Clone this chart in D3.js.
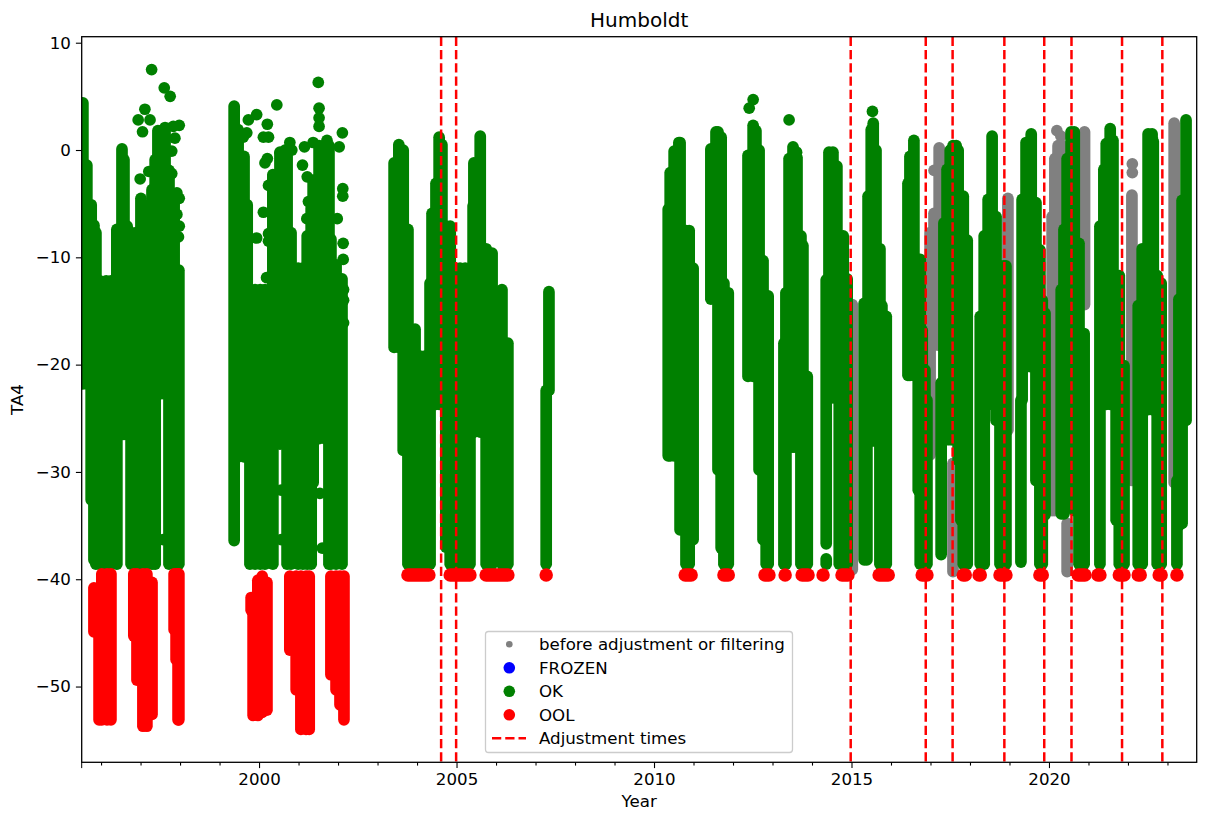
<!DOCTYPE html>
<html>
<head>
<meta charset="utf-8">
<script src="https://cdn.jsdelivr.net/npm/d3@7"></script>
<style>
  html, body { margin: 0; padding: 0; background: #fff; }
  text { font-family: "DejaVu Sans", sans-serif; fill: #000; }
</style>
</head>
<body>
<div id="chart"></div>
<script>
//====================DATA===================
// every span is [year, lowest, highest]

const okSpans = [
  [1995.54,-21.8,4.4],[1995.64,-21.8,-1.4],[1995.75,-32.6,-5.1],[1995.82,-38.2,-7.0],[1995.87,-38.6,-7.7],
  [1995.97,-38.6,-12.2],[1996.13,-38.6,-12.2],[1996.25,-38.6,-12.2],[1996.40,-38.6,-7.4],[1996.53,-26.5,0.1],
  [1996.58,-26.5,-0.9],[1996.66,-26.5,-7.1],[1996.76,-38.6,-7.7],[1996.89,-38.6,-7.7],[1997.01,-38.6,-4.5],
  [1997.16,-38.6,-5.2],[1997.29,-38.6,-3.7],[1997.37,-38.6,-0.9],[1997.44,-22.7,1.8],[1997.54,-22.7,1.8],
  [1997.62,-22.7,2.1],[1997.72,-38.6,-1.9],[1997.85,-38.6,-4.2],[1997.97,-38.6,-11.2],
  [1999.37,-36.4,4.1],[1999.47,-28.6,1.9],[1999.62,-28.6,-0.6],[1999.70,-28.6,-5.1],[1999.77,-38.6,-13.0],
  [1999.90,-38.6,-13.0],[2000.03,-38.6,-13.0],[2000.15,-38.6,-13.0],[2000.35,-38.6,-2.3],[2000.53,-27.4,-0.3],
  [2000.66,-27.4,0.0],[2000.71,-38.6,-0.3],[2000.81,-38.6,-7.7],[2000.99,-38.6,-11.0],[2001.11,-38.6,-11.0],
  [2001.22,-38.6,-8.0],[2001.32,-38.6,-5.4],[2001.37,-31.0,-2.8],[2001.52,-26.9,0.4],[2001.67,-26.9,0.4],
  [2001.77,-38.6,0.4],[2001.82,-38.6,-8.3],[2001.95,-38.6,-10.7],[2002.10,-38.6,-12.0],
  [2003.42,-18.4,-1.2],[2003.54,-18.4,0.5],[2003.65,-28.0,0.0],[2003.77,-38.6,-7.4],[2003.95,-38.6,-16.7],
  [2004.08,-38.6,-19.2],[2004.20,-38.6,-19.2],[2004.33,-38.6,-12.4],[2004.38,-23.7,-5.9],[2004.48,-23.7,-3.1],
  [2004.56,-23.7,1.2],[2004.63,-23.7,0.5],[2004.73,-37.0,-7.1],[2004.84,-38.6,-7.1],[2004.96,-38.6,-11.0],[2005.09,-38.6,-11.0],
  [2005.22,-38.6,-11.0],[2005.34,-38.6,-11.0],[2005.42,-26.3,-5.2],[2005.44,-26.3,-1.2],[2005.60,-26.3,1.3],
  [2005.67,-26.3,-9.2],[2005.75,-38.6,-9.2],[2005.90,-38.6,-9.6],[2006.15,-38.6,-13.0],[2006.30,-38.6,-18.0],
  [2007.34,-22.4,-13.2],[2007.27,-38.6,-22.4],
  [2010.36,-28.5,-5.5],[2010.41,-28.5,-2.1],[2010.51,-28.5,-0.1],[2010.63,-28.5,0.7],[2010.66,-35.4,0.7],
  [2010.81,-38.6,-7.5],[2010.89,-38.6,-7.5],[2010.99,-36.3,-11.0],
  [2011.44,-13.9,0.1],[2011.57,-13.9,1.7],[2011.62,-29.8,1.7],[2011.70,-37.1,1.2],[2011.77,-38.6,-12.4],[2011.88,-38.6,-13.3],
  [2012.38,-21.1,-0.5],[2012.51,-21.1,2.3],[2012.58,-21.1,1.8],[2012.66,-29.8,0.0],[2012.76,-36.3,-10.3],
  [2012.84,-38.6,-13.6],[2012.89,-38.6,-13.6],
  [2013.29,-38.6,-18.0],[2013.34,-38.6,-13.3],[2013.42,-27.7,-0.8],[2013.52,-27.7,0.3],[2013.62,-27.7,-0.7],
  [2013.72,-38.6,-8.0],[2013.77,-38.6,-8.9],[2013.88,-38.6,-21.1],
  [2014.36,-36.7,-12.1],[2014.36,-38.6,-38.1],[2014.43,-23.1,-0.2],[2014.53,-23.1,-0.2],[2014.63,-23.1,-1.5],
  [2014.69,-38.6,-8.0],[2014.79,-38.6,-8.0],[2014.89,-38.6,-12.0],
  [2015.32,-38.2,-14.3],[2015.39,-38.2,-14.3],[2015.42,-27.1,-4.3],[2015.50,-27.1,1.9],[2015.55,-27.1,2.5],
  [2015.62,-27.1,0.0],[2015.72,-38.6,-9.2],[2015.77,-38.6,-14.5],[2015.88,-38.6,-15.5],
  [2016.43,-21.0,-3.1],[2016.48,-21.0,-0.6],[2016.58,-21.0,0.9],[2016.69,-31.7,-10.2],[2016.74,-38.6,-10.2],
  [2016.79,-38.6,-16.8],[2016.86,-38.6,-20.5],[2016.91,-38.6,-23.3],
  [2017.27,-37.7,-21.7],[2017.34,-26.0,-6.8],[2017.42,-27.0,-1.8],[2017.50,-27.0,0.0],[2017.57,-27.0,0.4],
  [2017.65,-27.0,0.4],[2017.70,-28.9,0.0],[2017.77,-34.5,-4.3],[2017.83,-38.6,-4.3],[2017.88,-38.6,-8.4],[2017.93,-38.6,-8.4],
  [2018.26,-38.6,-15.5],[2018.36,-38.6,-8.0],[2018.46,-23.7,-4.6],[2018.56,-23.7,1.3],[2018.66,-25.2,-6.2],
  [2018.76,-38.6,-10.8],[2018.86,-38.6,-10.8],[2018.91,-38.6,-10.8],
  [2019.29,-38.4,-23.3],[2019.32,-23.3,-4.6],[2019.42,-20.2,0.7],[2019.55,-20.2,1.5],[2019.62,-20.2,-4.9],
  [2019.67,-30.8,-4.9],[2019.77,-38.6,-9.3],[2019.83,-38.6,-14.0],[2019.90,-34.0,-15.2],
  [2020.31,-33.9,-13.0],[2020.38,-33.9,-7.4],[2020.46,-33.1,-0.8],[2020.56,-33.1,1.7],[2020.64,-33.6,1.7],
  [2020.76,-38.6,-8.7],[2020.89,-38.6,-17.1],
  [2021.29,-38.6,-7.1],[2021.39,-23.7,-1.8],[2021.45,-23.7,0.6],[2021.55,-23.7,2.0],[2021.62,-23.7,0.9],
  [2021.70,-34.5,-11.7],[2021.78,-38.6,-11.7],[2021.90,-38.6,-20.1],
  [2022.26,-38.6,-14.5],[2022.36,-38.6,-9.2],[2022.51,-24.2,1.5],[2022.61,-24.2,1.5],[2022.64,-24.2,0.8],
  [2022.74,-38.6,-11.7],[2022.84,-38.6,-12.4],
  [2023.24,-38.6,-30.8],[2023.29,-35.0,-13.9],[2023.37,-34.8,-4.7],[2023.47,-25.2,2.8]
];

const okDots = [
  [1997.28,7.5],[1997.60,5.8],[1997.75,5.0],[1997.11,3.8],[1996.94,2.8],[1997.24,2.8],[1997.05,1.7],
  [1997.83,2.2],[1997.98,2.3],[1997.87,1.1],[1997.79,-0.1],[1996.99,-2.7],[1997.21,-2.0],[1997.79,-2.2],
  [1997.92,-4.0],[1997.98,-4.5],[1997.92,-6.0],[1997.98,-7.1],[1997.96,-8.1],[1997.57,-36.3],
  [1999.73,2.8],[1999.94,3.3],[2000.21,2.4],[1999.60,1.2],[1999.69,1.6],[2000.11,1.2],[2000.24,1.2],
  [2000.45,4.2],[2000.78,0.7],[2000.53,-0.2],[2000.83,0.0],[2000.21,-0.8],[2000.15,-1.2],[2001.10,-1.4],
  [2001.22,-2.5],[2000.24,-3.3],[2000.11,-5.8],[1999.94,-8.2],[2000.24,-7.8],[2000.24,-8.5],[2000.19,-11.9],
  [2001.50,6.3],[2001.52,3.9],[2001.52,3.0],[2001.52,2.2],[2001.15,0.3],[2001.37,0.7],[2001.72,0.9],
  [2002.03,0.3],[2002.11,1.6],[2002.12,-3.6],[2002.12,-4.3],[2001.98,-6.4],[2002.13,-8.7],[2002.13,-10.2],
  [2002.14,-13.0],[2002.14,-14.0],[2002.14,-16.1],[2001.54,-32.0],[2001.60,-37.1],[2000.56,-36.3],[2000.56,-31.7],
  [2001.25,-4.8],[2001.21,-6.4],
  [2012.41,3.9],[2012.51,4.7],[2013.42,2.8],[2013.61,-0.2],[2015.53,3.6]
];

const oolSpans = [
  [1995.82,-44.9,-40.8],[1995.95,-53.1,-40.8],[1996.02,-53.1,-39.5],[1996.15,-53.1,-39.5],[1996.25,-53.1,-39.5],
  [1996.83,-45.3,-39.5],[1996.91,-49.4,-39.5],[1997.06,-53.7,-39.5],[1997.16,-53.7,-39.5],[1997.29,-52.6,-40.3],
  [1997.85,-44.7,-39.5],[1997.90,-47.5,-39.5],[1997.95,-53.1,-39.5],[1997.97,-53.1,-39.5],
  [1999.80,-42.9,-41.7],[1999.85,-52.7,-41.7],[1999.97,-52.7,-40.1],[2000.08,-52.4,-39.7],[2000.20,-52.2,-40.3],
  [2000.78,-46.6,-39.7],[2000.94,-50.3,-39.7],[2001.06,-54.0,-39.7],[2001.19,-54.0,-39.7],[2001.27,-54.0,-39.7],
  [2001.82,-48.9,-39.7],[2001.95,-50.3,-39.7],[2002.05,-51.7,-39.7],[2002.15,-53.1,-39.7]
];

// stretches of years where OOL sits flat on the sensor floor
const oolFloor = -39.6;
const oolStretches = [
  [2003.77,2004.30],[2004.84,2005.34],[2005.75,2006.30],[2007.27,2007.27],[2010.79,2010.94],[2011.77,2011.88],
  [2012.81,2012.91],[2013.32,2013.32],[2013.75,2013.90],[2014.28,2014.28],[2014.76,2014.91],[2015.70,2015.93],
  [2016.79,2016.91],[2017.83,2017.88],[2018.23,2018.26],[2018.76,2018.91],[2019.77,2019.83],[2020.74,2020.91],
  [2021.24,2021.29],[2021.78,2021.90],[2022.26,2022.31],[2022.79,2022.84],[2023.24,2023.24]
];

const rawSpans = [
  [2015.02,-39.1,-14.4],[2016.99,-28.4,-7.7],[2017.09,-18.2,-5.9],[2017.22,-18.2,0.2],[2017.57,-39.3,-29.2],
  [2018.96,-26.1,-4.5],[2020.08,-33.6,-6.2],[2020.15,-33.6,-0.8],[2020.23,-33.6,0.4],[2020.33,-23.3,0.4],
  [2020.46,-39.3,-34.8],[2020.90,-14.4,1.7],[2022.10,-30.8,-4.2],[2023.17,-31.0,2.5]
];

const rawDots = [[2017.09,-1.9],[2020.20,1.8],[2020.30,1.3],[2022.11,-1.3],[2022.11,-2.1]];

const adjustmentTimes = [2004.61,2004.99,2014.98,2016.88,2017.56,2018.87,2019.88,2020.57,2021.85,2022.87];

const xMajorTicks = [2000,2005,2010,2015,2020];
const xMinorTicks = [1996,1997,1998,1999,2001,2002,2003,2004,2006,2007,2008,2009,2011,2012,2013,2014,2016,2017,2018,2019,2021,2022,2023];
const yTicks = [10,0,-10,-20,-30,-40,-50];

const legendLabels = ['before adjustment or filtering','FROZEN','OK','OOL','Adjustment times'];
const legendColors = ['gray','blue','green','red','red'];

//====================STRUCTURE===================

const width = 1208;
const height = 822;
const margin = {top:36.7, right:11.3, bottom:59.7, left:81.7};
const fontSize = '16.67px';

const x = d3.scaleLinear()
.domain([1995.51, 2023.74])
.range([margin.left, width - margin.right]);

const y = d3.scaleLinear()
.domain([10.56, -57.06])
.range([margin.top, height - margin.bottom]);

const svg = d3.select('#chart')
.append('svg')
.attr('width', width)
.attr('height', height)
.style('display', 'block');

svg.append('clipPath')
.attr('id', 'plot-area')
.append('rect')
.attr('x', margin.left)
.attr('y', margin.top)
.attr('width', width - margin.left - margin.right)
.attr('height', height - margin.top - margin.bottom);

const plot = svg.append('g').attr('clip-path', 'url(#plot-area)');

//================MARKS==========================================

// a run of overlapping markers is a round capped line of the marker width
const markerWidth = 11.7;

const drawSpans = (spans, dots, color) => {
  const g = plot.append('g');

  g.selectAll('line')
  .data(spans)
  .enter()
  .append('line')
  .attr('x1', d => x(d[0]))
  .attr('x2', d => x(d[0]))
  .attr('y1', d => y(d[1]))
  .attr('y2', d => y(d[2]))
  .attr('stroke', color)
  .attr('stroke-width', markerWidth)
  .attr('stroke-linecap', 'round');

  g.selectAll('circle')
  .data(dots)
  .enter()
  .append('circle')
  .attr('cx', d => x(d[0]))
  .attr('cy', d => y(d[1]))
  .attr('r', markerWidth / 2)
  .attr('fill', color);
}

drawSpans(rawSpans, rawDots, 'gray');
drawSpans(okSpans, okDots, 'green');
drawSpans(oolSpans, [], 'red');

plot.append('g')
.selectAll('line')
.data(oolStretches)
.enter()
.append('line')
.attr('x1', d => x(d[0]))
.attr('x2', d => x(d[1]))
.attr('y1', y(oolFloor))
.attr('y2', y(oolFloor))
.attr('stroke', 'red')
.attr('stroke-width', 13.5)
.attr('stroke-linecap', 'round');

plot.append('g')
.selectAll('line')
.data(adjustmentTimes)
.enter()
.append('line')
.attr('x1', d => x(d))
.attr('x2', d => x(d))
.attr('y1', margin.top)
.attr('y2', height - margin.bottom)
.attr('stroke', 'red')
.attr('stroke-width', 2.5)
.attr('stroke-dasharray', '9.25 4');

//================AXES==========================================

svg.append('g')
.attr('transform', `translate(0,${height - margin.bottom})`)
.call(d3.axisBottom(x).tickValues(xMajorTicks).tickFormat(d3.format('d')).tickSize(5.8).tickPadding(5));

svg.append('g')
.attr('transform', `translate(0,${height - margin.bottom})`)
.call(d3.axisBottom(x).tickValues(xMinorTicks).tickFormat('').tickSize(3.3));

// the axis also carries a tick on its left end, with no label
svg.append('line')
.attr('x1', margin.left)
.attr('x2', margin.left)
.attr('y1', height - margin.bottom)
.attr('y2', height - margin.bottom + 5.8)
.attr('stroke', '#000')
.attr('stroke-width', 1);

svg.append('g')
.attr('transform', `translate(${margin.left},0)`)
.call(d3.axisLeft(y).tickValues(yTicks).tickFormat(d3.format('d')).tickSize(5.8).tickPadding(5));

svg.selectAll('.tick text')
.style('font-size', fontSize)
.style('font-family', '"DejaVu Sans", sans-serif');

svg.selectAll('.domain').attr('stroke-width', 0);

svg.selectAll('.tick line')
.attr('stroke-width', 1.1);

// frame
svg.append('rect')
.attr('x', margin.left)
.attr('y', margin.top)
.attr('width', width - margin.left - margin.right)
.attr('height', height - margin.top - margin.bottom)
.attr('fill', 'none')
.attr('stroke', '#000')
.attr('stroke-width', 1.3);

svg.append('text')
.attr('x', (margin.left + width - margin.right) / 2)
.attr('y', 27)
.attr('text-anchor', 'middle')
.style('font-size', '20px')
.text('Humboldt');

svg.append('text')
.attr('x', (margin.left + width - margin.right) / 2)
.attr('y', 807)
.attr('text-anchor', 'middle')
.style('font-size', fontSize)
.text('Year');

svg.append('text')
.attr('transform', `translate(23,${(margin.top + height - margin.bottom) / 2}) rotate(-90)`)
.attr('text-anchor', 'middle')
.style('font-size', fontSize)
.text('TA4');

//================LEGEND==========================================

const legend = svg.append('g').attr('transform', 'translate(485,631)');

legend.append('rect')
.attr('x', 0.5)
.attr('y', 0.5)
.attr('width', 307)
.attr('height', 121)
.attr('rx', 3)
.attr('fill', '#fff')
.attr('fill-opacity', 0.8)
.attr('stroke', '#ccc')
.attr('stroke-width', 1.3);

const rows = legend.selectAll('g.row')
.data(legendLabels)
.enter()
.append('g')
.attr('class', 'row')
.attr('transform', (d, i) => `translate(0,${13.3 + i * 23.5})`);

rows.filter((d, i) => i < 4)
.append('circle')
.attr('cx', 24.3)
.attr('r', (d, i) => i === 0 ? 3.3 : 5.8)
.attr('fill', (d, i) => legendColors[i]);

rows.filter((d, i) => i === 4)
.append('line')
.attr('x1', 7)
.attr('x2', 41)
.attr('stroke', legendColors[4])
.attr('stroke-width', 2.5)
.attr('stroke-dasharray', '9.25 4');

rows.append('text')
.attr('x', 54)
.attr('y', 5.8)
.style('font-size', fontSize)
.text(d => d);
</script>
</body>
</html>
